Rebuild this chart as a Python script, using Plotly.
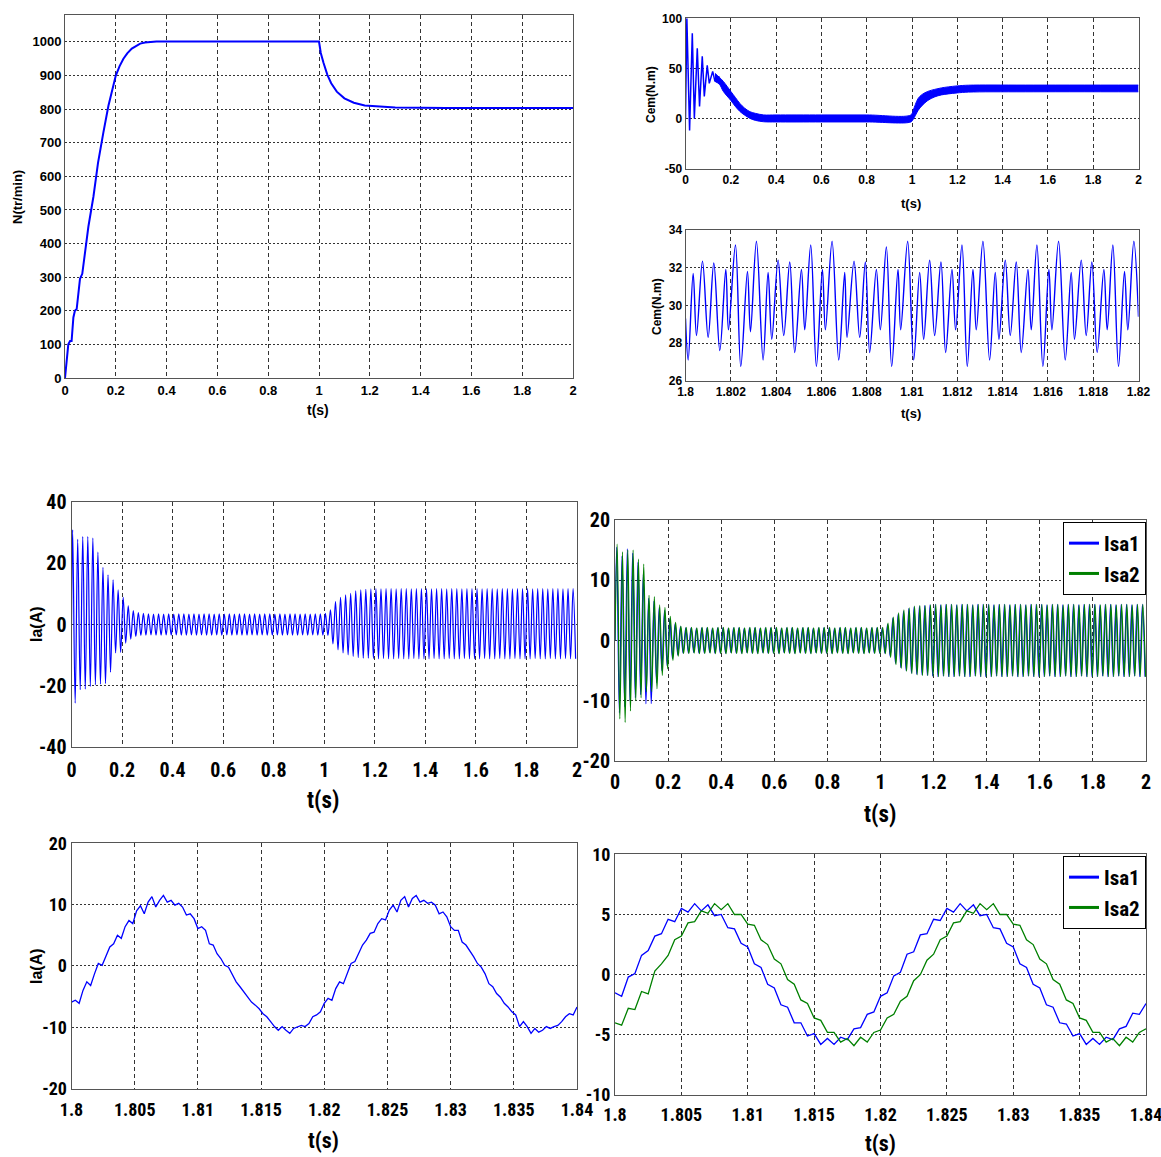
import numpy as np
import plotly.graph_objects as go

W, H = 1161, 1157

# ---------------- data ----------------
# Panel 1 : speed N (tr/min)
t_N = [0, 0.0066, 0.013, 0.02, 0.026, 0.033, 0.039, 0.046, 0.053, 0.059,
       0.068, 0.079, 0.092, 0.112, 0.13, 0.151, 0.171, 0.2, 0.215, 0.23,
       0.245, 0.263, 0.28, 0.296, 0.315, 0.335, 0.36, 1.0, 1.007, 1.018,
       1.033, 1.048, 1.07, 1.1, 1.137, 1.18, 1.226, 1.3, 1.5, 2.0]
N_speed = [0, 60, 100, 110, 110, 180, 200, 205, 260, 295,
           310, 380, 450, 540, 640, 730, 810, 900, 928, 950,
           966, 980, 989, 995, 998, 1000, 1001, 1001, 967, 937,
           902, 877, 852, 832, 819, 811, 808, 805, 803, 803]

# Panel 2 : torque Cem 0-2 s (start-up oscillation + ripple band)
t_cem_osc = [0, 0.003, 0.006, 0.018, 0.03, 0.039, 0.052, 0.062, 0.074, 0.083,
             0.096, 0.105, 0.12, 0.13, 0.15]
cem_osc = [0, 68, 100, -12, 85, 0, 70, 12, 62, 22, 53, 35, 47, 37, 42]
t_cem_band = [0.13, 0.15, 0.167, 0.2, 0.22, 0.24, 0.26, 0.285, 0.31, 0.345,
              0.4, 0.6, 0.8, 0.995, 1.005, 1.015, 1.027, 1.045, 1.07, 1.1,
              1.13, 1.16, 1.2, 1.25, 1.5, 2.0]
cem_band_hi = [45, 41, 37, 27, 21, 15, 10.5, 6.7, 5, 3.5,
               3.5, 3.5, 3.5, 3.5, 8, 14, 20, 24, 27, 29,
               30.5, 31.5, 32.5, 33.2, 33.3, 33.3]
cem_band_lo = [37, 34, 27, 18, 12, 7, 3.5, 0, -2, -3.3,
               -3.5, -3.5, -3.5, -3.5, -1, 3, 8, 13, 18, 21.5,
               23.5, 24.5, 25.5, 26.3, 26.6, 26.6]

# Panel 3 : torque zoom 1.8-1.82 s (time offsets in ms, extrema)
t_cem_zoom_ms = [0, 0.118, 0.338, 0.485, 0.75, 1.0, 1.25, 1.515, 1.78, 1.897,
                 2.206, 2.44, 2.735, 2.868, 3.132, 3.426, 3.647, 3.809, 4.088, 4.338,
                 4.603, 4.824, 5.118, 5.265, 5.529, 5.779, 6.044, 6.176, 6.471, 6.765,
                 7.029, 7.132, 7.441, 7.691, 7.941, 8.132, 8.426, 8.603, 8.868, 9.103,
                 9.382, 9.5, 9.809, 10.074, 10.338, 10.515, 10.779, 11.0, 11.279, 11.485,
                 11.765, 11.926, 12.206, 12.441, 12.691, 12.838, 13.132, 13.426, 13.676, 13.838,
                 14.118, 14.338, 14.603, 14.824, 15.118, 15.265, 15.515, 15.779, 16.044, 16.176,
                 16.471, 16.765, 17.029, 17.176, 17.471, 17.691, 17.941, 18.176, 18.471, 18.618,
                 18.868, 19.118, 19.382, 19.529, 19.794, 20.0]
cem_zoom = [29.3, 27.1, 31.7, 28.4, 32.35, 28.3, 32.25, 27.6, 31.9, 28.7,
            33.2, 26.75, 31.8, 28.6, 33.4, 27.1, 31.75, 28.2, 32.4, 28.4,
            32.3, 27.5, 31.9, 28.7, 33.2, 26.75, 31.9, 28.7, 33.4, 27.1,
            31.75, 28.3, 32.35, 28.3, 32.3, 27.5, 31.9, 28.7, 33.1, 26.75,
            31.9, 28.7, 33.4, 27.1, 31.75, 28.2, 32.4, 28.4, 32.3, 27.5,
            31.9, 28.7, 33.2, 26.75, 31.9, 28.7, 33.4, 27.1, 31.75, 28.2,
            32.4, 28.4, 32.3, 27.5, 31.9, 28.7, 33.2, 26.75, 31.9, 28.7,
            33.4, 27.1, 31.75, 28.2, 32.4, 28.4, 32.3, 27.5, 31.9, 28.7,
            33.2, 26.75, 31.8, 28.7, 33.4, 29.4]

# Panel 4 : Ia 0-2 s, one peak and one trough per 50 Hz cycle
ia_period = 0.02
ia_first_peak = 0.0045
ia_peaks = [30.9, 27.8, 28.7, 28.7, 28.2, 23.6, 18.7, 16.2, 14.6, 11.3,
            8.9, 6.1, 4.5, 3.9, 3.6, 3.5, 3.4, 3.5, 3.4, 3.5,
            3.4, 3.5, 3.5, 3.4, 3.5, 3.4, 3.5, 3.5, 3.4, 3.5,
            3.4, 3.5, 3.4, 3.5, 3.5, 3.4, 3.5, 3.4, 3.5, 3.5,
            3.4, 3.5, 3.4, 3.5, 3.5, 3.4, 3.5, 3.4, 3.5, 3.5,
            3.6, 4.8, 7.5, 8.9, 9.7, 10.2, 11.0, 11.3, 11.5, 11.6,
            11.7, 11.6, 11.7, 11.7, 11.6, 11.7, 11.7, 11.6, 11.7, 11.7,
            11.7, 11.6, 11.7, 11.7, 11.6, 11.7, 11.7, 11.6, 11.7, 11.7,
            11.7, 11.6, 11.7, 11.7, 11.6, 11.7, 11.7, 11.6, 11.7, 11.7,
            11.7, 11.6, 11.7, 11.7, 11.6, 11.7, 11.7, 11.6, 11.7, 11.7]
ia_troughs = [-25.7, -21.3, -21.1, -20.2, -19.7, -19.5, -19.3, -15.6, -9.3, -9.1,
              -6.1, -4.8, -3.9, -3.6, -3.5, -3.4, -3.5, -3.5, -3.4, -3.5,
              -3.4, -3.5, -3.5, -3.4, -3.5, -3.4, -3.5, -3.5, -3.4, -3.5,
              -3.4, -3.5, -3.4, -3.5, -3.5, -3.4, -3.5, -3.4, -3.5, -3.5,
              -3.4, -3.5, -3.4, -3.5, -3.5, -3.4, -3.5, -3.4, -3.5, -3.5,
              -3.6, -6.3, -8.3, -9.3, -9.9, -10.4, -10.8, -11.0, -11.0, -11.1,
              -11.2, -11.1, -11.2, -11.2, -11.1, -11.2, -11.2, -11.1, -11.2, -11.2,
              -11.2, -11.1, -11.2, -11.2, -11.1, -11.2, -11.2, -11.1, -11.2, -11.2,
              -11.2, -11.1, -11.2, -11.2, -11.1, -11.2, -11.2, -11.1, -11.2, -11.2,
              -11.2, -11.1, -11.2, -11.2, -11.1, -11.2, -11.2, -11.1, -11.2, -11.2]

# Panel 5 : Isa1 / Isa2 0-2 s
isa1_first_peak = 0.0065
isa2_first_peak = 0.0082
isa1_peaks = [15.5, 14.0, 15.2, 14.5, 13.0, 11.0, 7.0, 6.5, 5.5, 5.0,
              3.6, 2.8, 2.3, 2.1, 2.1, 2.0, 2.1, 2.1, 2.0, 2.1,
              2.1, 2.0, 2.1, 2.1, 2.0, 2.1, 2.1, 2.0, 2.1, 2.1,
              2.1, 2.0, 2.1, 2.1, 2.0, 2.1, 2.1, 2.0, 2.1, 2.1,
              2.1, 2.0, 2.1, 2.1, 2.0, 2.1, 2.1, 2.0, 2.1, 2.1,
              2.1, 2.7, 3.7, 4.4, 4.9, 5.3, 5.6, 5.7, 5.8, 5.9,
              6.0, 5.9, 6.0, 6.0, 5.9, 6.0, 6.0, 5.9, 6.0, 6.0,
              6.0, 5.9, 6.0, 6.0, 5.9, 6.0, 6.0, 5.9, 6.0, 6.0,
              6.0, 5.9, 6.0, 6.0, 5.9, 6.0, 6.0, 5.9, 6.0, 6.0,
              6.0, 5.9, 6.0, 6.0, 5.9, 6.0, 6.0, 5.9, 6.0, 6.0]
isa1_troughs = [-12.0, -11.0, -10.0, -9.5, -9.0, -10.5, -10.5, -7.0, -5.0, -4.2,
                -3.0, -2.4, -2.1, -2.1, -2.0, -2.1, -2.1, -2.0, -2.1, -2.1,
                -2.1, -2.0, -2.1, -2.1, -2.0, -2.1, -2.1, -2.0, -2.1, -2.1,
                -2.1, -2.0, -2.1, -2.1, -2.0, -2.1, -2.1, -2.0, -2.1, -2.1,
                -2.1, -2.0, -2.1, -2.1, -2.0, -2.1, -2.1, -2.0, -2.1, -2.1,
                -2.1, -2.6, -3.8, -4.5, -5.0, -5.4, -5.6, -5.7, -5.8, -5.9,
                -6.0, -5.9, -6.0, -6.0, -5.9, -6.0, -6.0, -5.9, -6.0, -6.0,
                -6.0, -5.9, -6.0, -6.0, -5.9, -6.0, -6.0, -5.9, -6.0, -6.0,
                -6.0, -5.9, -6.0, -6.0, -5.9, -6.0, -6.0, -5.9, -6.0, -6.0,
                -6.0, -5.9, -6.0, -6.0, -5.9, -6.0, -6.0, -5.9, -6.0, -6.0]
isa2_peaks = [16.0, 14.7, 15.0, 15.0, 13.5, 12.7, 7.5, 7.3, 5.9, 5.5,
              4.0, 3.0, 2.4, 2.2, 2.2, 2.1, 2.2, 2.2, 2.1, 2.2,
              2.2, 2.1, 2.2, 2.2, 2.1, 2.2, 2.2, 2.1, 2.2, 2.2,
              2.2, 2.1, 2.2, 2.2, 2.1, 2.2, 2.2, 2.1, 2.2, 2.2,
              2.2, 2.1, 2.2, 2.2, 2.1, 2.2, 2.2, 2.1, 2.2, 2.2,
              2.2, 2.9, 3.9, 4.6, 5.1, 5.4, 5.7, 5.8, 5.8, 5.9,
              6.0, 5.9, 6.0, 6.0, 5.9, 6.0, 6.0, 5.9, 6.0, 6.0,
              6.0, 5.9, 6.0, 6.0, 5.9, 6.0, 6.0, 5.9, 6.0, 6.0,
              6.0, 5.9, 6.0, 6.0, 5.9, 6.0, 6.0, 5.9, 6.0, 6.0,
              6.0, 5.9, 6.0, 6.0, 5.9, 6.0, 6.0, 5.9, 6.0, 6.0]
isa2_troughs = [-13.0, -13.6, -11.7, -10.0, -9.5, -8.5, -8.5, -8.0, -5.8, -4.7,
                -3.3, -2.6, -2.2, -2.2, -2.1, -2.2, -2.2, -2.1, -2.2, -2.2,
                -2.2, -2.1, -2.2, -2.2, -2.1, -2.2, -2.2, -2.1, -2.2, -2.2,
                -2.2, -2.1, -2.2, -2.2, -2.1, -2.2, -2.2, -2.1, -2.2, -2.2,
                -2.2, -2.1, -2.2, -2.2, -2.1, -2.2, -2.2, -2.1, -2.2, -2.2,
                -2.2, -2.8, -4.0, -4.6, -5.1, -5.5, -5.7, -5.8, -5.8, -5.9,
                -6.0, -5.9, -6.0, -6.0, -5.9, -6.0, -6.0, -5.9, -6.0, -6.0,
                -6.0, -5.9, -6.0, -6.0, -5.9, -6.0, -6.0, -5.9, -6.0, -6.0,
                -6.0, -5.9, -6.0, -6.0, -5.9, -6.0, -6.0, -5.9, -6.0, -6.0,
                -6.0, -5.9, -6.0, -6.0, -5.9, -6.0, -6.0, -5.9, -6.0, -6.0]

# Panel 6 : Ia zoom 1.8-1.84 s (samples evenly spread over the window)
ia_zoom = [-5.9, -5.6, -6.1, -4.0, -2.6, -3.2, -1.3, 0.4, 0.1, 1.7,
           3.1, 3.6, 5.0, 4.5, 6.4, 7.4, 6.9, 9.0, 9.8, 8.5,
           10.4, 11.3, 9.6, 10.7, 11.5, 10.4, 10.7, 9.9, 10.2, 9.6,
           8.3, 8.5, 7.7, 6.1, 6.4, 5.8, 3.6, 3.4, 2.0, 1.2,
           0.1, -0.2, -1.3, -2.6, -3.4, -4.2, -5.1, -5.9, -6.4, -7.0,
           -7.8, -8.3, -9.1, -9.9, -10.5, -9.9, -10.5, -11.0, -10.2, -9.9,
           -9.7, -9.9, -9.4, -8.3, -8.0, -7.5, -6.1, -5.3, -5.6, -3.7,
           -2.6, -2.9, -1.3, 0.4, 0.7, 2.0, 3.4, 4.2, 5.3, 5.5,
           6.9, 7.7, 7.5, 9.1, 9.9, 8.8, 10.7, 11.3, 9.6, 11.0,
           11.5, 10.4, 10.7, 10.2, 10.4, 9.9, 8.5, 8.8, 8.0, 6.4,
           5.8, 5.8, 3.9, 3.4, 2.5, 1.5, 0.4, -0.2, -1.3, -2.9,
           -3.4, -4.5, -5.1, -6.1, -6.7, -7.5, -8.0, -9.9, -9.1, -9.9,
           -11.0, -10.2, -10.8, -10.5, -9.9, -10.2, -9.9, -9.7, -9.1, -8.3,
           -7.8, -8.0, -6.7]

# Panel 7 : Isa1 / Isa2 zoom 1.8-1.84 s (samples evenly spread over the window)
isa1_zoom = [-1.5, -1.8, -0.2, 0.1, 1.6, 2.0, 3.2, 3.4, 4.6, 4.4,
             5.5, 5.2, 5.9, 5.3, 5.8, 4.9, 5.0, 3.9, 3.8, 2.6,
             2.3, 0.9, 0.6, -0.8, -1.1, -2.5, -2.7, -4.0, -4.0, -5.1,
             -4.9, -5.8, -5.3, -5.8, -5.2, -5.4, -4.5, -4.4, -3.3, -3.1,
             -1.8, -1.5, -0.1, 0.2, 1.7, 1.9, 3.3, 3.4, 4.6, 4.5,
             5.5, 5.2, 5.9, 5.3, 5.8, 4.9, 5.0, 3.9, 3.8, 2.6,
             2.3, 0.9, 0.6, -0.8, -1.1, -2.5, -2.7, -4.0, -4.1, -5.1,
             -4.9, -5.8, -5.3, -5.8, -5.2, -5.4, -4.5, -4.3, -3.2, -3.3,
             -2.4]
isa2_zoom = [-4.0, -4.2, -2.8, -2.9, -1.4, -1.6, 0.3, 0.9, 1.6, 2.9,
             3.2, 4.3, 4.4, 5.3, 5.1, 5.9, 5.4, 5.9, 5.0, 5.0,
             4.2, 4.1, 2.9, 2.5, 1.3, 0.9, -0.4, -0.8, -2.1, -2.4,
             -3.6, -3.8, -4.8, -4.8, -5.6, -5.3, -5.9, -5.2, -5.6, -4.8,
             -4.6, -3.6, -3.3, -2.2, -1.8, -0.5, 0.0, 1.2, 1.7, 2.9,
             3.2, 4.3, 4.4, 5.3, 5.1, 5.9, 5.4, 5.9, 5.0, 5.0,
             4.2, 4.1, 2.9, 2.5, 1.3, 0.9, -0.4, -0.8, -2.1, -2.4,
             -3.6, -3.8, -4.8, -4.8, -5.6, -5.3, -5.9, -5.2, -5.6, -4.8,
             -4.5]

# tick labels
ticks_t2 = [0, 0.2, 0.4, 0.6, 0.8, 1, 1.2, 1.4, 1.6, 1.8, 2]
ticks_t2_txt = ["0", "0.2", "0.4", "0.6", "0.8", "1", "1.2", "1.4", "1.6", "1.8", "2"]
ticks_N = [0, 100, 200, 300, 400, 500, 600, 700, 800, 900, 1000]
ticks_cem = [-50, 0, 50, 100]
ticks_cemz_x = [1.8, 1.802, 1.804, 1.806, 1.808, 1.81, 1.812, 1.814, 1.816, 1.818, 1.82]
ticks_cemz_x_txt = ["1.8", "1.802", "1.804", "1.806", "1.808", "1.81", "1.812", "1.814",
                    "1.816", "1.818", "1.82"]
ticks_cemz_y = [26, 28, 30, 32, 34]
ticks_ia = [-40, -20, 0, 20, 40]
ticks_isa = [-20, -10, 0, 10, 20]
ticks_z_x = [1.8, 1.805, 1.81, 1.815, 1.82, 1.825, 1.83, 1.835, 1.84]
ticks_z_x_txt = ["1.8", "1.805", "1.81", "1.815", "1.82", "1.825", "1.83", "1.835", "1.84"]
ticks_iaz = [-20, -10, 0, 10, 20]
ticks_isaz = [-10, -5, 0, 5, 10]
legend_names = ["Isa1", "Isa2"]

# ---------------- helpers ----------------
BLUE = "#0000FF"
GREEN = "#008000"
SANS = "Liberation Sans, Arial, sans-serif"
NARROW = "Liberation Sans Narrow, Arial Narrow, Roboto Condensed, DejaVu Sans Condensed, Liberation Sans"


def osc(peaks, troughs, first_peak, period):
    xs, ys = [0.0], [0.0]
    for k, (p, tr) in enumerate(zip(peaks, troughs)):
        xs += [first_peak + k * period, first_peak + (k + 0.5) * period]
        ys += [p, tr]
    return xs, ys


def dx(a, b):
    return [a / W, b / W]


def dy(top, bottom):
    return [1 - bottom / H, 1 - top / H]


fig = go.Figure()

# panel 1
fig.add_trace(go.Scatter(x=t_N, y=N_speed, mode="lines", line=dict(color=BLUE, width=2),
                         xaxis="x", yaxis="y", showlegend=False))
# panel 2
fig.add_trace(go.Scatter(x=t_cem_band, y=cem_band_lo, mode="lines", line=dict(color=BLUE, width=1, shape="spline"),
                         xaxis="x2", yaxis="y2", showlegend=False))
fig.add_trace(go.Scatter(x=t_cem_band, y=cem_band_hi, mode="lines", line=dict(color=BLUE, width=1, shape="spline"),
                         fill="tonexty", fillcolor=BLUE, xaxis="x2", yaxis="y2", showlegend=False))
fig.add_trace(go.Scatter(x=t_cem_osc, y=cem_osc, mode="lines", line=dict(color=BLUE, width=1.5),
                         xaxis="x2", yaxis="y2", showlegend=False))
# panel 3
t_cem_zoom = [1.8 + v / 1000 for v in t_cem_zoom_ms]
fig.add_trace(go.Scatter(x=t_cem_zoom, y=cem_zoom, mode="lines", line=dict(color=BLUE, width=1.4, shape="spline"),
                         xaxis="x3", yaxis="y3", showlegend=False))
# panel 4
x4, y4 = osc(ia_peaks, ia_troughs, ia_first_peak, ia_period)
fig.add_trace(go.Scatter(x=x4, y=y4, mode="lines", line=dict(color=BLUE, width=1.2, shape="spline"),
                         xaxis="x4", yaxis="y4", showlegend=False))
# panel 5
x5a, y5a = osc(isa1_peaks, isa1_troughs, isa1_first_peak, ia_period)
x5b, y5b = osc(isa2_peaks, isa2_troughs, isa2_first_peak, ia_period)
fig.add_trace(go.Scatter(x=x5a, y=y5a, mode="lines", line=dict(color=BLUE, width=1.2, shape="spline"),
                         xaxis="x5", yaxis="y5", showlegend=False))
fig.add_trace(go.Scatter(x=x5b, y=y5b, mode="lines", line=dict(color=GREEN, width=1.2, shape="spline"),
                         xaxis="x5", yaxis="y5", showlegend=False))
# panel 6
t6 = np.linspace(1.8, 1.84, len(ia_zoom))
fig.add_trace(go.Scatter(x=t6, y=ia_zoom, mode="lines", line=dict(color=BLUE, width=1.3),
                         xaxis="x6", yaxis="y6", showlegend=False))
# panel 7
t7 = np.linspace(1.8, 1.84, len(isa1_zoom))
fig.add_trace(go.Scatter(x=t7, y=isa1_zoom, mode="lines", line=dict(color=BLUE, width=1.3),
                         xaxis="x7", yaxis="y7", showlegend=False))
fig.add_trace(go.Scatter(x=t7, y=isa2_zoom, mode="lines", line=dict(color=GREEN, width=1.3),
                         xaxis="x7", yaxis="y7", showlegend=False))

# legend entries (thick keys, as in the reference)
for lg, xa, ya in [("legend", "x5", "y5"), ("legend2", "x7", "y7")]:
    for name, col in zip(legend_names, [BLUE, GREEN]):
        fig.add_trace(go.Scatter(x=[None], y=[None], mode="lines", name=name,
                                 line=dict(color=col, width=3), xaxis=xa, yaxis=ya,
                                 legend=lg, showlegend=True))


def axis(domain, rng, tv, tt, anchor, font, size, xdir, standoff=0):
    return dict(domain=domain, range=rng, tickvals=tv, ticktext=tt, anchor=anchor,
                showgrid=True, gridcolor="#333333", gridwidth=1,
                griddash="4px,3px" if xdir else "2px,2px",
                showline=True, linecolor="#555555", linewidth=1, mirror=True,
                ticks="", zeroline=False, automargin=False, ticklabeloverflow="allow",
                ticklabelstandoff=standoff,
                tickfont=dict(family=font, size=size, color="black", weight="bold"),
                fixedrange=True)


panels = [
    # (xdom, ydom, xrange, yrange, xticks, xtxt, yticks, font, size, x standoff)
    (dx(65, 573), dy(15, 378), [0, 2], [0, 1080], ticks_t2, ticks_t2_txt, ticks_N, SANS, 13, 0),
    (dx(685.5, 1138.5), dy(18.3, 168.5), [0, 2], [-50, 100], ticks_t2, ticks_t2_txt, ticks_cem, SANS, 12, 0),
    (dx(685.5, 1138.5), dy(230, 380.7), [1.8, 1.82], [26, 34], ticks_cemz_x, ticks_cemz_x_txt, ticks_cemz_y, SANS, 12, 0),
    (dx(71.5, 577), dy(502, 747), [0, 2], [-40, 40], ticks_t2, ticks_t2_txt, ticks_ia, NARROW, 20, 5),
    (dx(615, 1146), dy(520, 761), [0, 2], [-20, 20], ticks_t2, ticks_t2_txt, ticks_isa, NARROW, 20, 3),
    (dx(71.5, 577), dy(843.3, 1088.5), [1.8, 1.84], [-20, 20], ticks_z_x, ticks_z_x_txt, ticks_iaz, NARROW, 18, 5),
    (dx(615, 1146), dy(854.3, 1095), [1.8, 1.84], [-10, 10], ticks_z_x, ticks_z_x_txt, ticks_isaz, NARROW, 18, 3),
]

layout = dict(width=W, height=H, margin=dict(l=0, r=0, t=0, b=0, autoexpand=False), autosize=False,
              paper_bgcolor="white", plot_bgcolor="white")
for i, (xd, yd, xr, yr, xt, xtt, yt, font, size, so) in enumerate(panels, start=1):
    sfx = "" if i == 1 else str(i)
    layout["xaxis" + sfx] = axis(xd, xr, xt, xtt, "y" + sfx, font, size, True, so)
    layout["yaxis" + sfx] = axis(yd, yr, yt, [str(v) for v in yt], "x" + sfx, font, size, False)

legend_style = dict(bgcolor="white", bordercolor="black", borderwidth=1,
                    font=dict(family=NARROW, size=21, color="black", weight="bold"),
                    xanchor="right", yanchor="top", tracegroupgap=0, traceorder="normal",
                    itemwidth=30)
layout["legend"] = dict(x=1146 / W, y=1 - 522 / H, **legend_style)
layout["legend2"] = dict(x=1146 / W, y=1 - 856 / H, **legend_style)

titles = [
    ("N(tr/min)", 17, 197, -90, SANS, 13),
    ("t(s)", 318, 410, 0, SANS, 14),
    ("Cem(N.m)", 651, 95, -90, SANS, 12),
    ("t(s)", 911, 203, 0, SANS, 13),
    ("Cem(N.m)", 657, 307, -90, SANS, 12),
    ("t(s)", 911, 413, 0, SANS, 13),
    ("Ia(A)", 36, 624, -90, SANS, 16),
    ("t(s)", 323, 800, 0, NARROW, 23),
    ("t(s)", 880, 814, 0, NARROW, 23),
    ("Ia(A)", 36, 966, -90, SANS, 16),
    ("t(s)", 323, 1140, 0, NARROW, 22),
    ("t(s)", 880, 1143, 0, NARROW, 22),
]
layout["annotations"] = [
    dict(text=t, x=px / W, y=1 - py / H, xref="paper", yref="paper", showarrow=False,
         textangle=ang, xanchor="center", yanchor="middle",
         font=dict(family=f, size=s, color="black", weight="bold"))
    for (t, px, py, ang, f, s) in titles
]
fig.update_layout(**layout)
fig.write_html("out.html", config={"displayModeBar": False},
               post_script="document.body.style.margin='0';document.body.style.overflow='hidden';")
